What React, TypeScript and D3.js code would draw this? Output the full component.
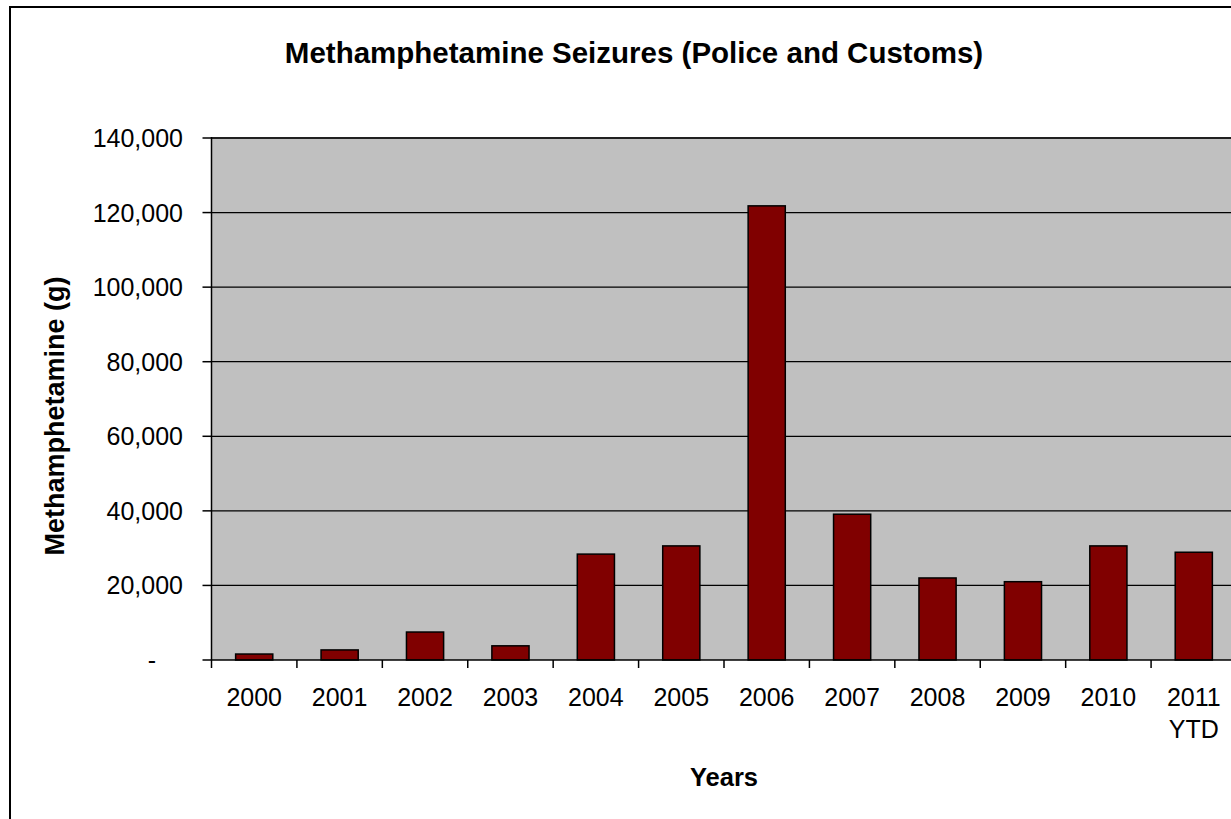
import React from 'react'
import * as d3 from 'd3'

// values (grams)
const years = ['2000', '2001', '2002', '2003', '2004', '2005', '2006', '2007', '2008', '2009', '2010', '2011 YTD']
const seizures = [1600, 2700, 7500, 3800, 28400, 30600, 121800, 39100, 22000, 21000, 30600, 28900]
const yTicks = [0, 20000, 40000, 60000, 80000, 100000, 120000, 140000]

const title = 'Methamphetamine Seizures (Police and Customs)'
const yTitle = 'Methamphetamine (g)'
const xTitle = 'Years'

const W = 1231
const H = 819
const font = '"Liberation Sans", Arial, sans-serif'

const App = () => {
  const left = 211.5
  const right = 1236.5
  const top = 138
  const bottom = 660

  const x = d3.scaleBand().domain(years).range([left, right]).paddingInner(0.565).paddingOuter(0.2825)
  const y = d3.scaleLinear().domain([0, 140000]).range([bottom, top])
  const step = x.step()
  const fmt = d3.format(',')

  return (
    <div style={{position: 'fixed', left: 0, top: 0}}>
      <svg width={W} height={H} style={{display: 'block', fontFamily: font}}>
        <rect x={0} y={0} width={W} height={H} fill="#fff" />
        {/* outer chart border */}
        <rect x={10} y={7} width={W + 20} height={H + 20} fill="none" stroke="#000" strokeWidth={2} />

        <text x={634} y={63} textAnchor="middle" fontSize={29.5} fontWeight="bold">{title}</text>

        {/* plot area */}
        <rect x={left} y={top} width={right - left} height={bottom - top} fill="#C0C0C0" />
        <line x1={left} x2={right} y1={top} y2={top} stroke="#808080" strokeWidth={2} />

        {yTicks.filter((t) => t > 0).map((t) => (
          <line key={t} x1={left} x2={right} y1={y(t)} y2={y(t)} stroke="#000" strokeWidth={1.3} />
        ))}

        {seizures.map((v, i) => (
          <rect
            key={years[i]}
            x={x(years[i])}
            y={y(v)}
            width={x.bandwidth()}
            height={bottom - y(v)}
            fill="#800000"
            stroke="#000"
            strokeWidth={1.5}
          />
        ))}

        {/* y axis */}
        <line x1={left} x2={left} y1={top - 1} y2={bottom} stroke="#000" strokeWidth={1.5} />
        {yTicks.map((t) => (
          <g key={t}>
            <line x1={left - 9} x2={left} y1={y(t)} y2={y(t)} stroke="#000" strokeWidth={1.5} />
            <text
              x={t === 0 ? 156 : 183}
              y={y(t)}
              dy="0.36em"
              textAnchor="end"
              fontSize={25}
            >
              {t === 0 ? '-' : fmt(t)}
            </text>
          </g>
        ))}

        {/* x axis */}
        <line x1={left} x2={right} y1={bottom} y2={bottom} stroke="#000" strokeWidth={1.5} />
        {years.map((c, i) => (
          <line
            key={c}
            x1={left + i * step}
            x2={left + i * step}
            y1={bottom}
            y2={bottom + 8}
            stroke="#000"
            strokeWidth={1.5}
          />
        ))}
        {years.map((c) => {
          const cx = x(c) + x.bandwidth() / 2
          const lines = c.split(' ')
          return (
            <text key={c} x={cx} y={706} textAnchor="middle" fontSize={25}>
              {lines.map((l, j) => (
                <tspan key={l} x={cx} dy={j === 0 ? 0 : 32}>{l}</tspan>
              ))}
            </text>
          )
        })}

        <text x={(left + right) / 2} y={786} textAnchor="middle" fontSize={25.5} fontWeight="bold">{xTitle}</text>
        <text
          transform={`translate(64 ${(top + bottom) / 2 + 17}) rotate(-90)`}
          textAnchor="middle"
          fontSize={27}
          fontWeight="bold"
        >
          {yTitle}
        </text>
      </svg>
    </div>
  )
}

export default App
